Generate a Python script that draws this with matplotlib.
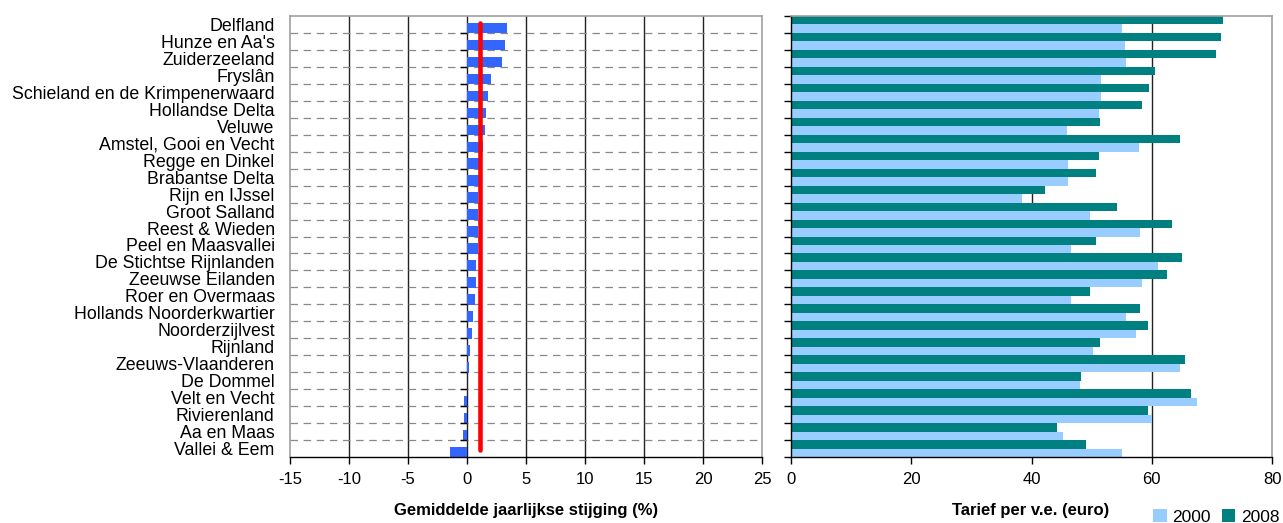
import matplotlib
matplotlib.use("Agg")
import matplotlib.pyplot as plt
from matplotlib.patches import Patch
from matplotlib.ticker import FixedLocator, NullFormatter
import numpy as np

plt.rcParams['font.family'] = ['Liberation Sans', 'DejaVu Sans']

categories = ["Delfland", "Hunze en Aa's", "Zuiderzeeland", "Fryslân",
              "Schieland en de Krimpenerwaard", "Hollandse Delta", "Veluwe",
              "Amstel, Gooi en Vecht", "Regge en Dinkel", "Brabantse Delta",
              "Rijn en IJssel", "Groot Salland", "Reest & Wieden",
              "Peel en Maasvallei", "De Stichtse Rijnlanden", "Zeeuwse Eilanden",
              "Roer en Overmaas", "Hollands Noorderkwartier", "Noorderzijlvest",
              "Rijnland", "Zeeuws-Vlaanderen", "De Dommel", "Velt en Vecht",
              "Rivierenland", "Aa en Maas", "Vallei & Eem"]

growth = [3.36, 3.2, 2.94, 2.0, 1.75, 1.58, 1.5, 1.33, 1.0, 1.0, 0.95, 0.92,
          0.9, 0.9, 0.74, 0.74, 0.72, 0.49, 0.4, 0.23, 0.15, 0.02, -0.28,
          -0.28, -0.36, -1.47]
average_growth = 1.08

tarief_2000 = [55.1, 55.6, 55.8, 51.6, 51.6, 51.3, 45.9, 57.8, 46.1, 46.1, 38.4,
               49.8, 58.1, 46.6, 61.1, 58.4, 46.6, 55.8, 57.3, 50.3, 64.7, 48.1,
               67.6, 60.1, 45.3, 55.1]
tarief_2008 = [71.9, 71.6, 70.7, 60.6, 59.6, 58.4, 51.4, 64.7, 51.3, 50.8, 42.3,
               54.3, 63.4, 50.8, 65.1, 62.6, 49.8, 58.1, 59.4, 51.4, 65.6, 48.3,
               66.6, 59.4, 44.3, 49.1]

left_ticks = [-15, -10, -5, 0, 5, 10, 15, 20, 25]
right_ticks = [0, 20, 40, 60, 80]

W, H = 1283, 523
fig = plt.figure(figsize=(W / 100, H / 100), dpi=100)

def fx(px):
    return px / W

def fy(py):
    return 1 - py / H

top, bot = 16, 457
axL = fig.add_axes([fx(290), fy(bot), fx(762) - fx(290), fy(top) - fy(bot)])
axR = fig.add_axes([fx(791), fy(bot), fx(1272) - fx(791), fy(top) - fy(bot)])

n = len(categories)
y = np.arange(n)
bounds = np.arange(n - 1) + 0.5
FS_CAT = 12.8
FS = 12
gray = '#A0A0A0'

# ---------- left panel ----------
axL.set_xlim(-15, 25)
axL.set_ylim(n - 0.5, -0.5)
for xv in left_ticks[1:-1]:
    axL.axvline(xv, color='#222222', lw=1.0, zorder=1)
for b in bounds:
    axL.axhline(b, color='#888888', lw=0.9, ls=(0, (6, 4.5)), zorder=1)
axL.barh(y + 0.21, growth, height=0.62, color='#3366FF', zorder=2)
axL.plot([average_growth, average_growth], [-0.09, n - 1 + 0.07],
         color='#FF0000', lw=3.3, solid_capstyle='round', zorder=4)
# tick marks on the zero axis
axL.plot(np.zeros(len(bounds)), bounds, ls='none', marker=0, markersize=5,
         markeredgewidth=1.0, color='black', zorder=3)
axL.set_yticks(y)
axL.set_yticklabels(categories, fontsize=FS_CAT)
axL.tick_params(axis='y', length=0, pad=11)
axL.set_xticks(left_ticks)
axL.set_xticklabels([str(v) for v in left_ticks], fontsize=FS)
axL.tick_params(axis='x', direction='out', length=5, width=1, pad=6)
for s in ['top', 'right', 'left']:
    axL.spines[s].set_color(gray)
    axL.spines[s].set_linewidth(1.2)
axL.spines['bottom'].set_color('black')
axL.spines['bottom'].set_linewidth(1.0)

# ---------- right panel ----------
axR.set_xlim(0, 80)
axR.set_ylim(n - 0.5, -0.5)
for xv in right_ticks[1:-1]:
    axR.axvline(xv, color='#222222', lw=1.0, zorder=1)
axR.barh(y - 0.25, tarief_2008, height=0.5, color='#008080', zorder=2)
axR.barh(y + 0.25, tarief_2000, height=0.5, color='#99CCFF', zorder=2)
axR.yaxis.set_major_locator(FixedLocator(list(bounds) + [-0.5, n - 0.5]))
axR.yaxis.set_major_formatter(NullFormatter())
axR.tick_params(axis='y', direction='out', length=5, width=1)
axR.set_xticks(right_ticks)
axR.set_xticklabels([str(v) for v in right_ticks], fontsize=FS)
axR.tick_params(axis='x', direction='out', length=5, width=1, pad=6)
for s in ['top', 'right']:
    axR.spines[s].set_color(gray)
    axR.spines[s].set_linewidth(1.2)
for s in ['left', 'bottom']:
    axR.spines[s].set_color('black')
    axR.spines[s].set_linewidth(1.0)

# ---------- axis titles ----------
fig.text(fx(526), fy(510), 'Gemiddelde jaarlijkse stijging (%)', ha='center',
         va='center', fontsize=FS, fontweight='bold')
fig.text(fx(1031), fy(510), 'Tarief per v.e. (euro)', ha='center',
         va='center', fontsize=FS, fontweight='bold')

handles = [Patch(facecolor='#99CCFF', edgecolor='none', label='2000'),
           Patch(facecolor='#008080', edgecolor='none', label='2008')]
fig.legend(handles=handles, loc='center right', bbox_to_anchor=(fx(1280), fy(517)),
           ncol=2, frameon=False, fontsize=FS + 0.5, handlelength=0.8,
           handleheight=0.8, handletextpad=0.35, columnspacing=0.6,
           borderpad=0, borderaxespad=0)

fig.savefig('out.png', dpi=100)
